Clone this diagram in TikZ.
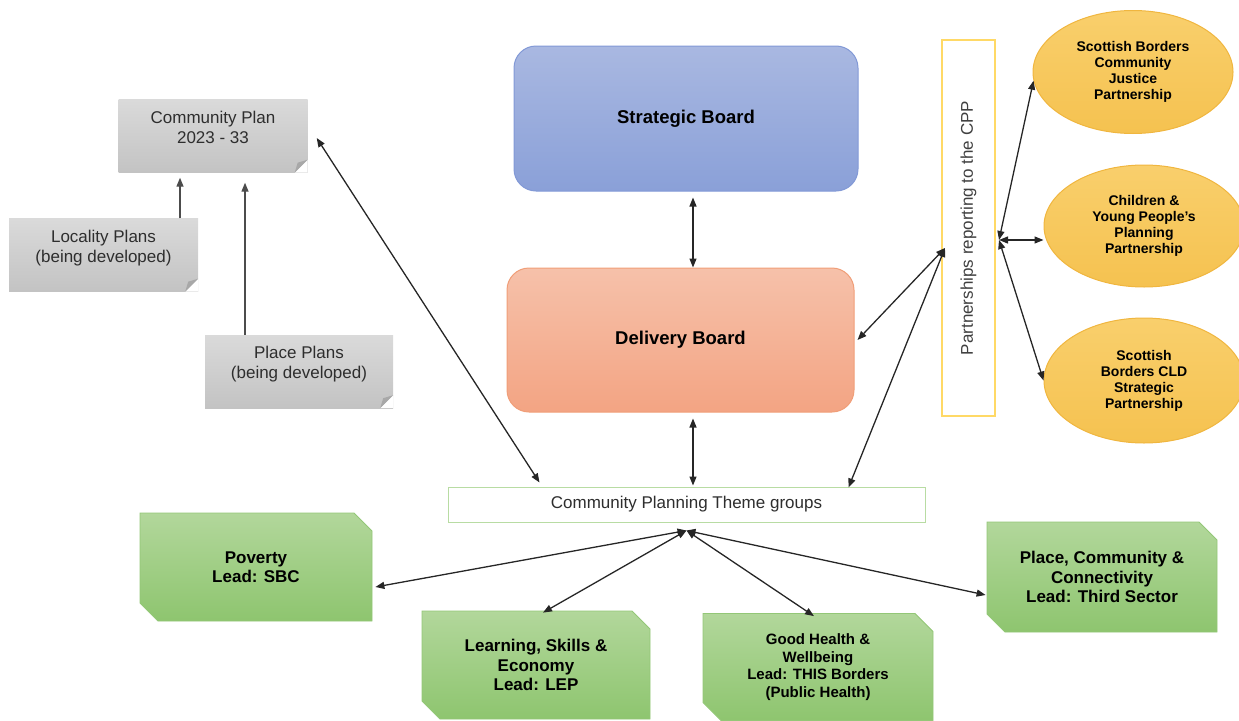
\documentclass[tikz,border=0pt]{standalone}
\usepackage{fontspec}
\setmainfont{Liberation Sans}
\usetikzlibrary{shapes.geometric,shapes.misc,arrows.meta,calc}
\definecolor{bTop}{HTML}{A9B8E1}
\definecolor{bBot}{HTML}{8AA0D8}
\definecolor{bEdge}{HTML}{8299D6}
\definecolor{sTop}{HTML}{F6C1AA}
\definecolor{sBot}{HTML}{F3A483}
\definecolor{sEdge}{HTML}{F09E78}
\definecolor{yTop}{HTML}{F9CF6C}
\definecolor{yBot}{HTML}{F5C250}
\definecolor{yEdge}{HTML}{F0B63F}
\definecolor{gTop}{HTML}{B2D79B}
\definecolor{gBot}{HTML}{8EC56F}
\definecolor{gEdge}{HTML}{93C777}
\definecolor{grTop}{HTML}{DADADA}
\definecolor{grBot}{HTML}{C3C3C3}
\definecolor{grFold}{HTML}{A8A8A8}
\definecolor{thEdge}{HTML}{B8DCA3}
\definecolor{ptEdge}{HTML}{FFD966}
\definecolor{txGray}{HTML}{2E2E2E}
\newcommand\upbox[1]{\raisebox{7pt}[\height][\depth]{\begin{tabular}{@{}c@{}}#1\end{tabular}}}
\begin{document}
\begin{tikzpicture}[x=1pt,y=-1pt,
  tip/.tip={Triangle[length=9pt,width=7pt]},
  bi/.style={tip-tip, line width=1.3pt, draw=black!85},
  uni/.style={-tip, line width=1.3pt, draw=black!70},
  board/.style={rectangle, rounded corners=22pt, line width=1pt, inner sep=0pt,
    font=\fontsize{18.5}{22}\selectfont\bfseries, text=black},
  plan/.style={rectangle, top color=grTop, bottom color=grBot, draw=none, inner sep=0pt,
    minimum width=189pt, minimum height=73pt,
    font=\fontsize{17}{20}\selectfont, text=txGray},
  theme/.style={chamfered rectangle, chamfered rectangle corners={north east,south west},
    chamfered rectangle xsep=9pt, chamfered rectangle ysep=9pt,
    top color=gTop, bottom color=gBot, draw=gEdge, line width=0.8pt,
    inner sep=0pt, align=center, text=black,
    font=\fontsize{17}{19.5}\selectfont\bfseries},
  oval/.style={ellipse, top color=yTop, bottom color=yBot, draw=yEdge, line width=1pt,
    inner sep=0pt, align=center, text=black,
    font=\fontsize{14}{16}\selectfont\bfseries},
]
\useasboundingbox (0,0) rectangle (1239,720);

% boards
\node[board, top color=bTop, bottom color=bBot, draw=bEdge,
  minimum width=344pt, minimum height=145pt] (sb) at (686,118.5) {Strategic Board};
\node[board, top color=sTop, bottom color=sBot, draw=sEdge,
  minimum width=347pt, minimum height=144pt] (db) at (680.5,340) {Delivery Board};

% theme groups bar
\node[rectangle, draw=thEdge, fill=white, line width=1pt, minimum width=477pt,
  minimum height=35pt, inner sep=0pt, font=\fontsize{17}{20}\selectfont, text=txGray]
  (tg) at (686.5,504.5) {Community Planning Theme groups};

% partnerships box
\node[rectangle, rotate=90, draw=ptEdge, fill=white, line width=1.3pt,
  minimum width=376pt, minimum height=53pt, inner sep=0pt,
  font=\fontsize{17}{20}\selectfont, text=black!75]
  (pt) at (968.5,228) {Partnerships reporting to the CPP};

% ellipses
\node[oval, minimum width=200pt, minimum height=123pt] (e1) at (1133,72)
  {Scottish Borders\\Community\\Justice\\Partnership};
\node[oval, minimum width=200pt, minimum height=122pt] (e2) at (1144,226)
  {Children \&\\Young People's\\Planning\\Partnership};
\node[oval, minimum width=200pt, minimum height=125pt] (e3) at (1144,380.5)
  {Scottish\\Borders CLD\\Strategic\\Partnership};

% plans
\node[plan] (cp) at (213,136) {\upbox{Community Plan\\2023 - 33}};
\node[plan] (lp) at (103.5,255) {\upbox{Locality Plans\\(being developed)}};
\node[plan, minimum width=188pt] (pp) at (299,371.5) {\upbox{Place Plans\\(being developed)}};
\foreach \n in {cp,lp,pp}{
  \fill[white] (\n.south east) -- ($(\n.south east)+(0,-13)$) -- ($(\n.south east)+(-13,0)$) -- cycle;
  \fill[grFold] ($(\n.south east)+(0,-13)$) -- ($(\n.south east)+(-13,0)$)
    -- ($(\n.south east)+(-10,-10)$) -- cycle;
}

% theme group boxes
\node[theme, minimum width=232pt, minimum height=108pt] (pov) at (256,567)
  {Poverty\\Lead: SBC};
\node[theme, minimum width=228pt, minimum height=108pt] (lse) at (536,665)
  {Learning, Skills \&\\Economy\\Lead: LEP};
\node[theme, minimum width=230pt, minimum height=107pt,
  font=\fontsize{15}{17.5}\selectfont\bfseries] (ghw) at (818,667)
  {Good Health \&\\Wellbeing\\Lead: THIS Borders\\(Public Health)};
\node[theme, minimum width=230pt, minimum height=110pt] (pcc) at (1102,577)
  {Place, Community \&\\Connectivity\\Lead: Third Sector};

% hubs
\coordinate (ax) at (693,0);
\coordinate (hub) at ($(tg.south)+(0,8)$);
\coordinate (pL) at (945,248);
\coordinate (pR) at (999,240);

% connectors
\draw[bi] ($(sb.south -| ax)+(0,6)$) -- (db.north -| ax);
\draw[bi] ($(db.south -| ax)+(0,6)$) -- ($(tg.north -| ax)+(0,-1)$);
\draw[bi] ($(cp.east)+(9,2)$) -- ($(tg.north west)+(92,-4)$);
\draw[uni] (lp.north -| 180,0) -- ($(cp.south -| 180,0)+(0,5)$);
\draw[uni] (pp.north -| 245,0) -- ($(cp.south -| 245,0)+(0,10)$);
\draw[bi] ($(db.east)+(3,0)$) -- (pL);
\draw[bi] ($(tg.north east)+(-77,1)$) -- (pL);
\draw[bi] (pR) -- (e1.185);
\draw[bi] (pR) -- (e2.west |- pR);
\draw[bi] (pR) -- (e3.west);
\draw[bi] (hub) -- ($(pov.east)+(3,20)$);
\draw[bi] (hub) -- ($(lse.north)+(7,2)$);
\draw[bi] (hub) -- ($(ghw.north)+(-4,3)$);
\draw[bi] (hub) -- ($(pcc.west)+(-1,18)$);
\end{tikzpicture}
\end{document}
